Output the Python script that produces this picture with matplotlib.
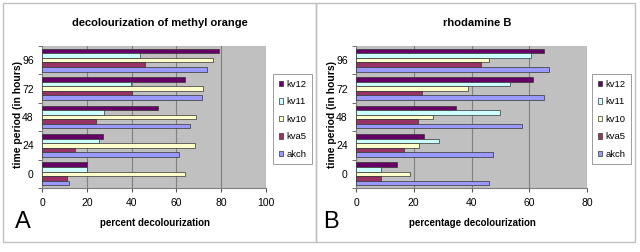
import matplotlib
matplotlib.use("Agg")
import matplotlib.pyplot as plt
from matplotlib.patches import Rectangle
import numpy as np

plt.rcParams['font.family'] = ['Liberation Sans', 'DejaVu Sans']

categories = ['0', '24', '48', '72', '96']
series = ['kv12', 'kv11', 'kv10', 'kva5', 'akch']
colors = ['#660066', '#ccffff', '#ffffcc', '#993366', '#9999ff']

# Panel A: decolourization of methyl orange (values per time 0,24,48,72,96)
mo_kv12 = [20.2, 27.4, 51.8, 63.7, 79.2]
mo_kv11 = [20.1, 25.3, 27.7, 39.9, 43.9]
mo_kv10 = [63.8, 68.5, 68.9, 71.9, 76.3]
mo_kva5 = [11.3, 14.7, 24.3, 40.0, 46.1]
mo_akch = [12.2, 61.2, 66.2, 71.3, 73.5]

# Panel B: rhodamine B
rb_kv12 = [14.2, 23.6, 34.6, 61.3, 65.2]
rb_kv11 = [8.6, 28.7, 49.8, 53.3, 60.6]
rb_kv10 = [18.6, 21.7, 26.6, 38.7, 46.2]
rb_kva5 = [8.7, 16.7, 21.5, 22.9, 43.4]
rb_akch = [46.1, 47.6, 57.4, 65.2, 66.9]

W, H = 640, 252
fig = plt.figure(figsize=(6.4, 2.52), dpi=100)
fig.patch.set_facecolor('white')

def fx(px):
    return px / W

def fy(py):
    return 1 - py / H

# panel borders
for (x0, x1) in [(3, 316), (316, 635)]:
    fig.patches.append(Rectangle((fx(x0), fy(242)), fx(x1) - fx(x0), fy(3) - fy(242),
                                 transform=fig.transFigure, fill=False,
                                 edgecolor='#c0c0c0', lw=1.0))

def panel(left_px, right_px, data, xmax, title, xlabel, letter, title_x, xlabel_x,
          ylabel_x, letter_x, legend_x):
    ax = fig.add_axes([fx(left_px), fy(188), fx(right_px) - fx(left_px), fy(46) - fy(188)])
    ax.set_facecolor('#c0c0c0')
    y = np.arange(len(categories))
    bh = 0.16
    n = len(series)
    for i, (name, vals, c) in enumerate(zip(series, data, colors)):
        off = (n - 1 - i - (n - 1) / 2) * bh
        ax.barh(y + off, vals, height=bh, color=c, edgecolor='#333333', lw=0.5,
                label=name, zorder=3)
    ax.set_xlim(0, xmax)
    ax.set_ylim(-0.5, len(categories) - 0.5)
    ax.set_xticks(np.arange(0, xmax + 1, 20))
    ax.set_yticks(y)
    ax.set_yticklabels(categories)
    ax.set_yticks(np.arange(-0.5, len(categories), 1), minor=True)
    ax.tick_params(axis='y', which='major', length=0, pad=6, labelsize=7.5)
    ax.tick_params(axis='y', which='minor', length=3, direction='out', color='#555555')
    ax.tick_params(axis='x', length=3, direction='out', pad=4, labelsize=7.5, color='#555555')
    ax.grid(axis='x', color='#808080', lw=0.8, zorder=1)
    ax.set_axisbelow(True)
    for s in ['top', 'right']:
        ax.spines[s].set_visible(False)
    ax.spines['left'].set_color('#808080')
    ax.spines['bottom'].set_color('#808080')
    ax.spines['left'].set_linewidth(0.8)
    ax.spines['bottom'].set_linewidth(0.8)

    fig.text(fx(title_x), fy(23), title, ha='center', va='center', fontsize=8, fontweight='bold')
    fig.text(fx(xlabel_x), fy(223), xlabel, ha='center', va='center', fontsize=7, fontweight='bold')
    fig.text(fx(ylabel_x), fy(114), 'time period (in hours)', ha='center', va='center',
             fontsize=7.5, fontweight='bold', rotation=90)
    fig.text(fx(letter_x), fy(222), letter, ha='center', va='center', fontsize=17)

    handles, labels = ax.get_legend_handles_labels()
    leg = fig.legend(handles, labels, loc='upper left',
                     bbox_to_anchor=(fx(legend_x), fy(74)), bbox_transform=fig.transFigure,
                     fontsize=6.8, frameon=True, fancybox=False, edgecolor='#707070',
                     handlelength=0.5, handleheight=0.5, handletextpad=0.3,
                     labelspacing=0.9, borderpad=0.6, borderaxespad=0)
    leg.get_frame().set_linewidth(0.6)
    return ax

panel(42, 266, [mo_kv12, mo_kv11, mo_kv10, mo_kva5, mo_akch], 100,
      'decolourization of methyl orange', 'percent decolourization', 'A',
      160, 155, 18, 23, 273)
panel(356, 587, [rb_kv12, rb_kv11, rb_kv10, rb_kva5, rb_akch], 80,
      'rhodamine B', 'percentage decolourization', 'B',
      477, 472, 332, 331, 592)

fig.savefig('out.png', dpi=100, facecolor='white')
